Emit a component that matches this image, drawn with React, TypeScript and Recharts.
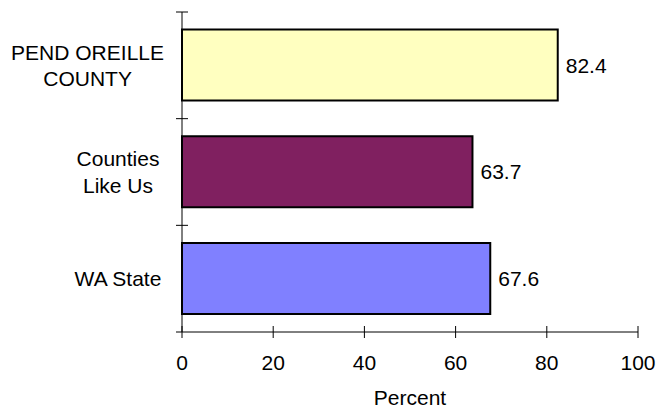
import { Bar, BarChart, Cell, LabelList, Label, XAxis, YAxis } from 'recharts'

const categories = ['PEND OREILLE\nCOUNTY', 'Counties\nLike Us', 'WA State']
const values = [82.4, 63.7, 67.6]
const xTicks = [0, 20, 40, 60, 80, 100]
const COLORS = ['#FFFFC0', '#802060', '#8080FF']

const data = categories.map((label, i) => ({ label, value: values[i] }))

const W = 658
const H = 411
const TOP = 12
const BOTTOM = 79
const AXIS_W = 182
const BAND = (H - TOP - BOTTOM) / categories.length
const FONT = '"Liberation Sans", Arial, sans-serif'
const FS = 21
const LINE_H = 26.5

let ctx: CanvasRenderingContext2D | null = null
function textWidth(s: string) {
  if (!ctx) ctx = document.createElement('canvas').getContext('2d')
  if (!ctx) return s.length * FS * 0.55
  ctx.font = `${FS}px ${FONT}`
  return ctx.measureText(s).width
}

function XTick(props: any) {
  const { x, y, payload } = props
  return (
    <g>
      <line x1={x} x2={x} y1={y - 6} y2={y + 6} stroke="#000" />
      <text x={x} y={y + 38} textAnchor="middle" fontSize={FS} fontFamily={FONT} fill="#000">
        {payload.value}
      </text>
    </g>
  )
}

// labels centred in the label area, pushed left when too wide (like excel)
function YTick(props: any) {
  const { x, y, payload, index } = props
  const lines = String(payload.value).split('\n')
  const maxW = Math.max(...lines.map(textWidth))
  const cx = Math.min(118, x - 18 - maxW / 2)
  const y0 = y - ((lines.length - 1) * LINE_H) / 2 + FS * 0.36
  return (
    <g>
      <line x1={x - 6} x2={x + 6} y1={y - BAND / 2} y2={y - BAND / 2} stroke="#000" />
      {index === categories.length - 1 && (
        <line x1={x - 6} x2={x} y1={y + BAND / 2} y2={y + BAND / 2} stroke="#000" />
      )}
      <text textAnchor="middle" fontSize={FS} fontFamily={FONT} fill="#000">
        {lines.map((l, i) => (
          <tspan key={i} x={cx} y={y0 + i * LINE_H}>
            {l}
          </tspan>
        ))}
      </text>
    </g>
  )
}

export default function App() {
  return (
    <div style={{ position: 'absolute', left: 0, top: 0, width: W, height: H, background: '#fff' }}>
      <BarChart
        width={W}
        height={H}
        data={data}
        layout="vertical"
        margin={{ top: TOP, right: 20, bottom: 0, left: 0 }}
        barCategoryGap="16.5%"
      >
        <XAxis
          type="number"
          domain={[0, 100]}
          ticks={xTicks}
          interval={0}
          height={BOTTOM}
          tickSize={0}
          tickMargin={0}
          tickLine={false}
          axisLine={{ stroke: '#000' }}
          tick={<XTick />}
        >
          <Label value="Percent" position="insideBottom" offset={6} fontSize={FS} fontFamily={FONT} fill="#000" />
        </XAxis>
        <YAxis
          type="category"
          dataKey="label"
          width={AXIS_W}
          tickSize={0}
          tickMargin={0}
          tickLine={false}
          axisLine={{ stroke: '#000' }}
          interval={0}
          tick={<YTick />}
        />
        <Bar dataKey="value" stroke="#000" strokeWidth={2} isAnimationActive={false}>
          {data.map((_, i) => (
            <Cell key={i} fill={COLORS[i % COLORS.length]} />
          ))}
          <LabelList dataKey="value" position="right" offset={8} fontSize={FS} fontFamily={FONT} fill="#000" />
        </Bar>
      </BarChart>
    </div>
  )
}
